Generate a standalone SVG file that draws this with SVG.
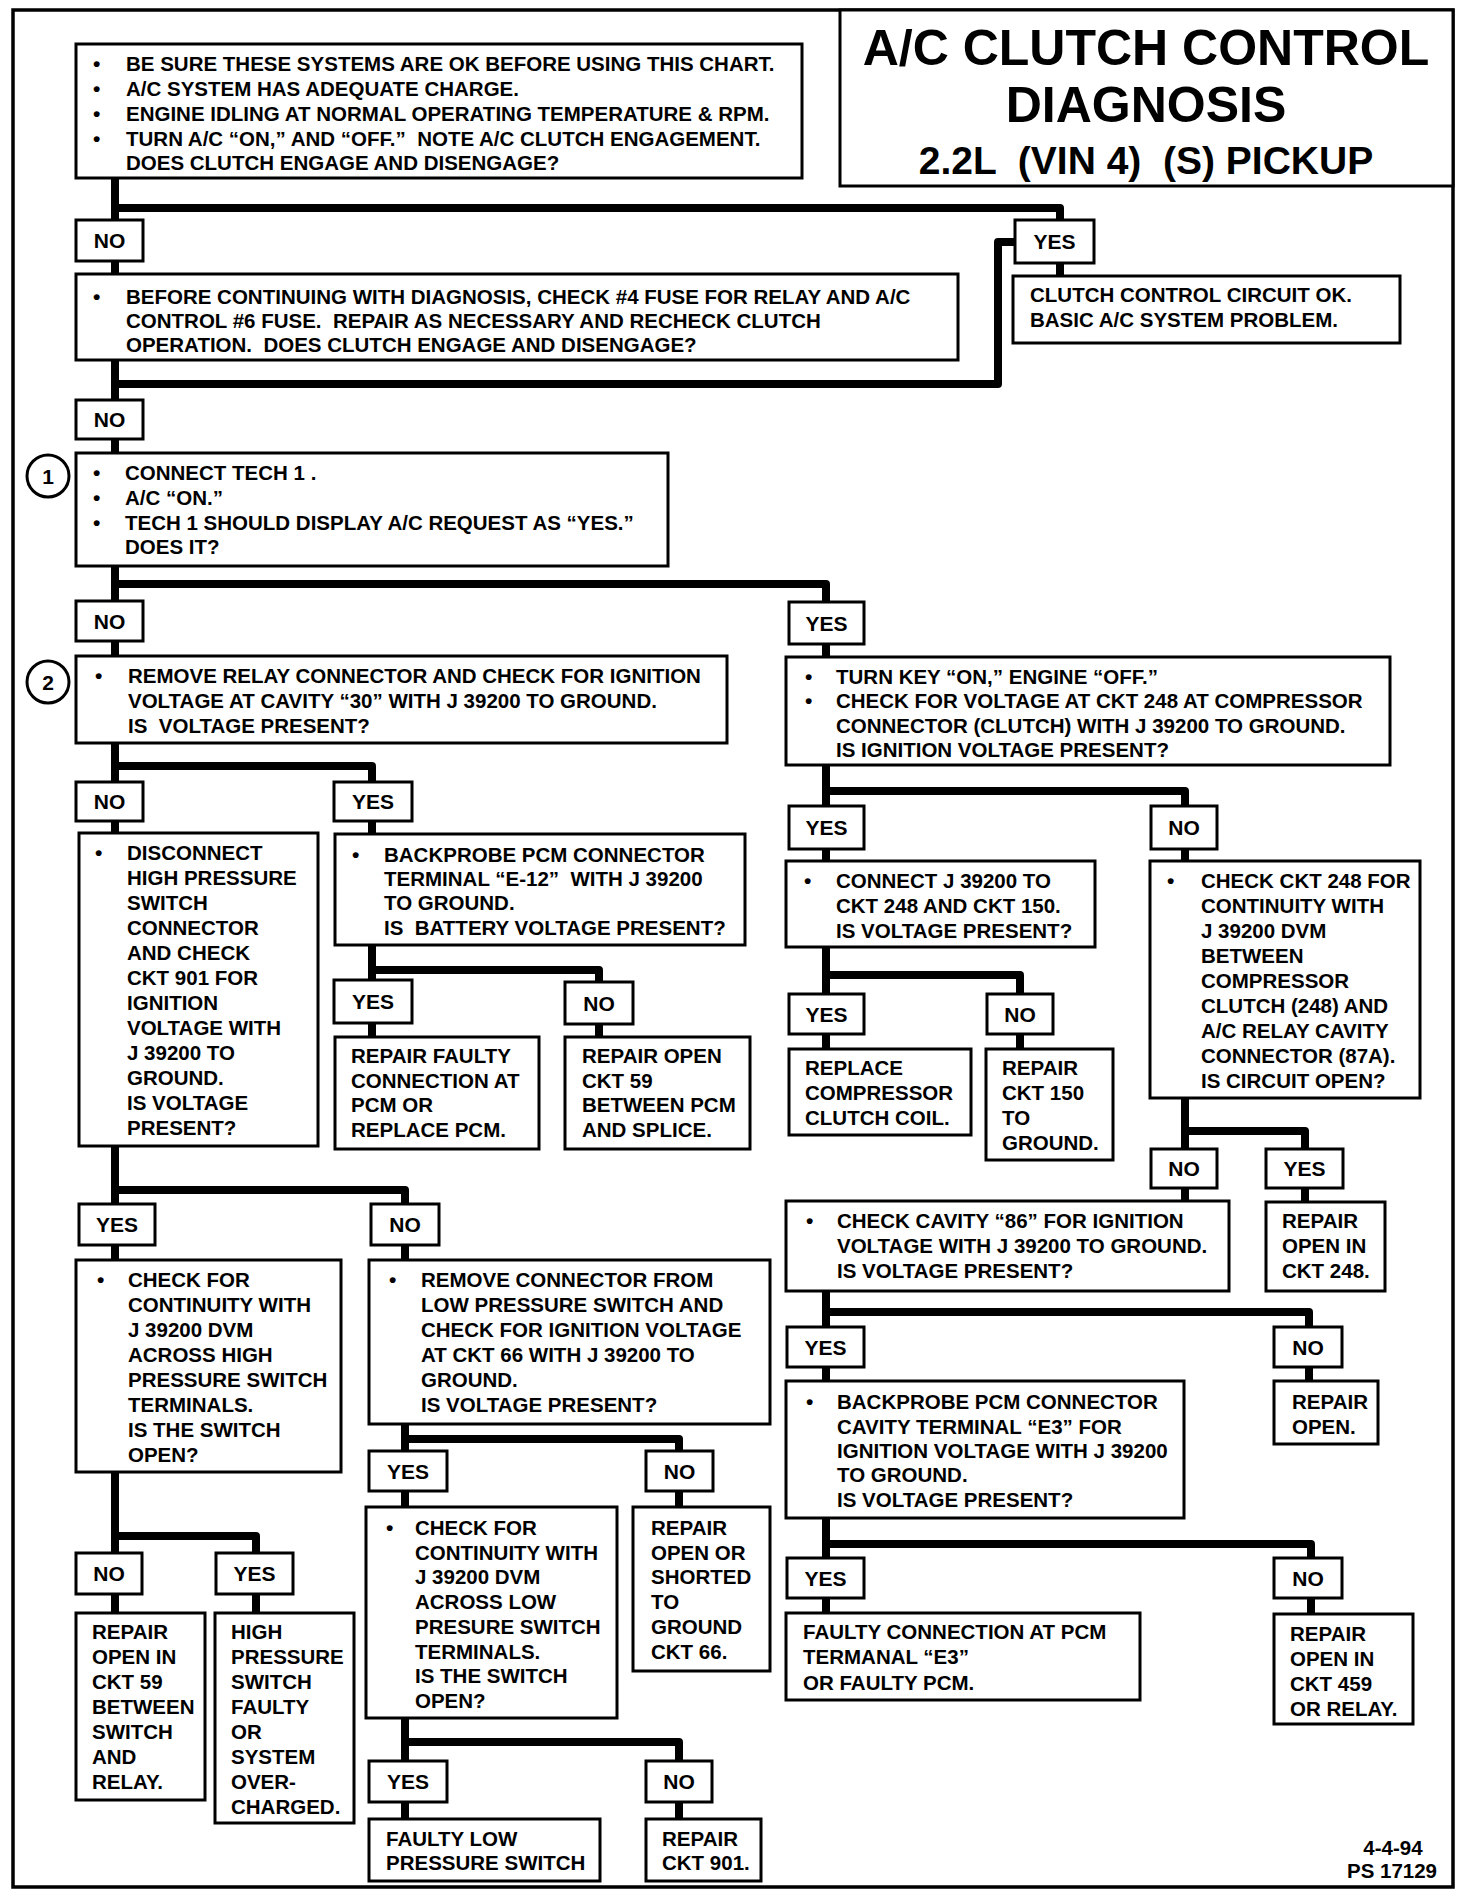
<svg xmlns="http://www.w3.org/2000/svg" width="1472" height="1902" viewBox="0 0 1472 1902">
<style>
.bx{fill:#fff;stroke:#000;stroke-width:3}
.fr{fill:none;stroke:#000;stroke-width:3.5}
.c{fill:none;stroke:#000;stroke-width:8;stroke-linejoin:round;stroke-linecap:butt}
.t{font-family:"Liberation Sans",Arial,sans-serif;font-weight:bold;font-size:20.5px;white-space:pre;fill:#000}
.b{font-family:"Liberation Sans",Arial,sans-serif;font-weight:bold;font-size:21px;fill:#000}
.l{font-family:"Liberation Sans",Arial,sans-serif;font-weight:bold;font-size:21px;text-anchor:middle;fill:#000}
.h{font-family:"Liberation Sans",Arial,sans-serif;font-weight:bold;text-anchor:middle;white-space:pre;fill:#000}
.ci{fill:#fff;stroke:#000;stroke-width:3}
</style>
<rect width="1472" height="1902" fill="#fff"/>
<rect class="fr" x="13" y="10" width="1440" height="1877"/>

<g id="connectors">
<path class="c" d="M115,178 V274"/>
<path class="c" d="M115,208 H1060 V276"/>
<path class="c" d="M115,360 V453"/>
<path class="c" d="M115,384 H998 V242 H1015"/>
<path class="c" d="M115,565 V656"/>
<path class="c" d="M115,584 H826 V657"/>
<path class="c" d="M115,743 V833"/>
<path class="c" d="M115,766 H372 V834"/>
<path class="c" d="M115,1146 V1260"/>
<path class="c" d="M115,1190 H405 V1260"/>
<path class="c" d="M372,945 V1037"/>
<path class="c" d="M372,970 H599 V1037"/>
<path class="c" d="M115,1472 V1613"/>
<path class="c" d="M115,1536 H256 V1613"/>
<path class="c" d="M405,1424 V1507"/>
<path class="c" d="M405,1439 H679 V1507"/>
<path class="c" d="M405,1718 V1819"/>
<path class="c" d="M405,1742 H679 V1819"/>
<path class="c" d="M826,765 V861"/>
<path class="c" d="M826,791 H1185 V861"/>
<path class="c" d="M826,947 V1049"/>
<path class="c" d="M826,975 H1020 V1049"/>
<path class="c" d="M1185,1098 V1201"/>
<path class="c" d="M1185,1131 H1305 V1202"/>
<path class="c" d="M826,1291 V1381"/>
<path class="c" d="M826,1312 H1309 V1381"/>
<path class="c" d="M826,1518 V1613"/>
<path class="c" d="M826,1544 H1311 V1614"/>
</g>

<g id="title">
<rect class="bx" x="840" y="10" width="613" height="176"/>
<text class="h" x="1146" y="65" font-size="50">A/C CLUTCH CONTROL</text>
<text class="h" x="1146" y="122" font-size="50">DIAGNOSIS</text>
<text class="h" x="1146" y="174" font-size="39">2.2L  (VIN 4)  (S) PICKUP</text>
</g>

<g id="nodeA">
<rect class="bx" x="76" y="44" width="726" height="134"/>
<text class="b" x="93" y="71">•</text>
<text class="t" x="126" y="71">BE SURE THESE SYSTEMS ARE OK BEFORE USING THIS CHART.</text>
<text class="b" x="93" y="96">•</text>
<text class="t" x="126" y="96">A/C SYSTEM HAS ADEQUATE CHARGE.</text>
<text class="b" x="93" y="121">•</text>
<text class="t" x="126" y="121">ENGINE IDLING AT NORMAL OPERATING TEMPERATURE &amp; RPM.</text>
<text class="b" x="93" y="146">•</text>
<text class="t" x="126" y="146">TURN A/C “ON,” AND “OFF.”  NOTE A/C CLUTCH ENGAGEMENT.</text>
<text class="t" x="126" y="170">DOES CLUTCH ENGAGE AND DISENGAGE?</text>
</g>

<g id="lblA-no"><rect class="bx" x="76" y="220" width="67" height="41"/><text class="l" x="109.5" y="248">NO</text></g>
<g id="lblA-yes"><rect class="bx" x="1015" y="220" width="79" height="43"/><text class="l" x="1054.5" y="249">YES</text></g>

<g id="nodeOK">
<rect class="bx" x="1013" y="276" width="387" height="67"/>
<text class="t" x="1030" y="302">CLUTCH CONTROL CIRCUIT OK.</text>
<text class="t" x="1030" y="327">BASIC A/C SYSTEM PROBLEM.</text>
</g>

<g id="nodeB">
<rect class="bx" x="76" y="274" width="882" height="86"/>
<text class="b" x="93" y="304">•</text>
<text class="t" x="126" y="304">BEFORE CONTINUING WITH DIAGNOSIS, CHECK #4 FUSE FOR RELAY AND A/C</text>
<text class="t" x="126" y="328">CONTROL #6 FUSE.  REPAIR AS NECESSARY AND RECHECK CLUTCH</text>
<text class="t" x="126" y="352">OPERATION.  DOES CLUTCH ENGAGE AND DISENGAGE?</text>
</g>

<g id="lblB-no"><rect class="bx" x="76" y="400" width="67" height="39"/><text class="l" x="109.5" y="427">NO</text></g>

<g id="step1"><circle class="ci" cx="48" cy="476" r="21"/><text class="l" x="48" y="484">1</text></g>
<g id="nodeC">
<rect class="bx" x="76" y="453" width="592" height="113"/>
<text class="b" x="93" y="480">•</text>
<text class="t" x="125" y="480">CONNECT TECH 1 .</text>
<text class="b" x="93" y="505">•</text>
<text class="t" x="125" y="505">A/C “ON.”</text>
<text class="b" x="93" y="530">•</text>
<text class="t" x="125" y="530">TECH 1 SHOULD DISPLAY A/C REQUEST AS “YES.”</text>
<text class="t" x="125" y="554">DOES IT?</text>
</g>

<g id="lblC-no"><rect class="bx" x="76" y="601" width="67" height="40"/><text class="l" x="109.5" y="629">NO</text></g>
<g id="lblC-yes"><rect class="bx" x="789" y="602" width="75" height="42"/><text class="l" x="826.5" y="631">YES</text></g>

<g id="step2"><circle class="ci" cx="48" cy="682" r="21"/><text class="l" x="48" y="690">2</text></g>
<g id="nodeD">
<rect class="bx" x="76" y="656" width="651" height="87"/>
<text class="b" x="95" y="683">•</text>
<text class="t" x="128" y="683">REMOVE RELAY CONNECTOR AND CHECK FOR IGNITION</text>
<text class="t" x="128" y="708">VOLTAGE AT CAVITY “30” WITH J 39200 TO GROUND.</text>
<text class="t" x="128" y="733">IS  VOLTAGE PRESENT?</text>
</g>

<g id="lblD-no"><rect class="bx" x="76" y="782" width="67" height="39"/><text class="l" x="109.5" y="809">NO</text></g>
<g id="lblD-yes"><rect class="bx" x="334" y="782" width="78" height="39"/><text class="l" x="373" y="809">YES</text></g>

<g id="nodeE">
<rect class="bx" x="79" y="833" width="239" height="313"/>
<text class="b" x="95" y="860">•</text>
<text class="t" x="127" y="860">DISCONNECT</text>
<text class="t" x="127" y="885">HIGH PRESSURE</text>
<text class="t" x="127" y="910">SWITCH</text>
<text class="t" x="127" y="935">CONNECTOR</text>
<text class="t" x="127" y="960">AND CHECK</text>
<text class="t" x="127" y="985">CKT 901 FOR</text>
<text class="t" x="127" y="1010">IGNITION</text>
<text class="t" x="127" y="1035">VOLTAGE WITH</text>
<text class="t" x="127" y="1060">J 39200 TO</text>
<text class="t" x="127" y="1085">GROUND.</text>
<text class="t" x="127" y="1110">IS VOLTAGE</text>
<text class="t" x="127" y="1135">PRESENT?</text>
</g>

<g id="nodeF">
<rect class="bx" x="335" y="834" width="410" height="111"/>
<text class="b" x="352" y="862">•</text>
<text class="t" x="384" y="862">BACKPROBE PCM CONNECTOR</text>
<text class="t" x="384" y="886">TERMINAL “E-12”  WITH J 39200</text>
<text class="t" x="384" y="910">TO GROUND.</text>
<text class="t" x="384" y="935">IS  BATTERY VOLTAGE PRESENT?</text>
</g>

<g id="lblF-yes"><rect class="bx" x="334" y="980" width="78" height="43"/><text class="l" x="373" y="1009">YES</text></g>
<g id="lblF-no"><rect class="bx" x="565" y="982" width="68" height="42"/><text class="l" x="599" y="1011">NO</text></g>

<g id="nodeG">
<rect class="bx" x="335" y="1037" width="204" height="112"/>
<text class="t" x="351" y="1063">REPAIR FAULTY</text>
<text class="t" x="351" y="1088">CONNECTION AT</text>
<text class="t" x="351" y="1112">PCM OR</text>
<text class="t" x="351" y="1137">REPLACE PCM.</text>
</g>
<g id="nodeH">
<rect class="bx" x="565" y="1037" width="185" height="112"/>
<text class="t" x="582" y="1063">REPAIR OPEN</text>
<text class="t" x="582" y="1088">CKT 59</text>
<text class="t" x="582" y="1112">BETWEEN PCM</text>
<text class="t" x="582" y="1137">AND SPLICE.</text>
</g>

<g id="lblE-yes"><rect class="bx" x="79" y="1204" width="76" height="41"/><text class="l" x="117" y="1232">YES</text></g>
<g id="lblE-no"><rect class="bx" x="371" y="1204" width="68" height="41"/><text class="l" x="405" y="1232">NO</text></g>

<g id="nodeI">
<rect class="bx" x="76" y="1260" width="265" height="212"/>
<text class="b" x="97" y="1287">•</text>
<text class="t" x="128" y="1287">CHECK FOR</text>
<text class="t" x="128" y="1312">CONTINUITY WITH</text>
<text class="t" x="128" y="1337">J 39200 DVM</text>
<text class="t" x="128" y="1362">ACROSS HIGH</text>
<text class="t" x="128" y="1387">PRESSURE SWITCH</text>
<text class="t" x="128" y="1412">TERMINALS.</text>
<text class="t" x="128" y="1437">IS THE SWITCH</text>
<text class="t" x="128" y="1462">OPEN?</text>
</g>

<g id="nodeL">
<rect class="bx" x="369" y="1260" width="401" height="164"/>
<text class="b" x="389" y="1287">•</text>
<text class="t" x="421" y="1287">REMOVE CONNECTOR FROM</text>
<text class="t" x="421" y="1312">LOW PRESSURE SWITCH AND</text>
<text class="t" x="421" y="1337">CHECK FOR IGNITION VOLTAGE</text>
<text class="t" x="421" y="1362">AT CKT 66 WITH J 39200 TO</text>
<text class="t" x="421" y="1387">GROUND.</text>
<text class="t" x="421" y="1412">IS VOLTAGE PRESENT?</text>
</g>

<g id="lblI-no"><rect class="bx" x="76" y="1553" width="66" height="41"/><text class="l" x="109" y="1581">NO</text></g>
<g id="lblI-yes"><rect class="bx" x="216" y="1553" width="77" height="41"/><text class="l" x="254.5" y="1581">YES</text></g>

<g id="nodeJ">
<rect class="bx" x="76" y="1613" width="129" height="187"/>
<text class="t" x="92" y="1639">REPAIR</text>
<text class="t" x="92" y="1664">OPEN IN</text>
<text class="t" x="92" y="1689">CKT 59</text>
<text class="t" x="92" y="1714">BETWEEN</text>
<text class="t" x="92" y="1739">SWITCH</text>
<text class="t" x="92" y="1764">AND</text>
<text class="t" x="92" y="1789">RELAY.</text>
</g>
<g id="nodeK">
<rect class="bx" x="215" y="1613" width="139" height="210"/>
<text class="t" x="231" y="1639">HIGH</text>
<text class="t" x="231" y="1664">PRESSURE</text>
<text class="t" x="231" y="1689">SWITCH</text>
<text class="t" x="231" y="1714">FAULTY</text>
<text class="t" x="231" y="1739">OR</text>
<text class="t" x="231" y="1764">SYSTEM</text>
<text class="t" x="231" y="1789">OVER-</text>
<text class="t" x="231" y="1814">CHARGED.</text>
</g>

<g id="lblL-yes"><rect class="bx" x="369" y="1451" width="78" height="40"/><text class="l" x="408" y="1479">YES</text></g>
<g id="lblL-no"><rect class="bx" x="646" y="1451" width="67" height="40"/><text class="l" x="679.5" y="1479">NO</text></g>

<g id="nodeM">
<rect class="bx" x="366" y="1507" width="251" height="211"/>
<text class="b" x="386" y="1535">•</text>
<text class="t" x="415" y="1535">CHECK FOR</text>
<text class="t" x="415" y="1560">CONTINUITY WITH</text>
<text class="t" x="415" y="1584">J 39200 DVM</text>
<text class="t" x="415" y="1609">ACROSS LOW</text>
<text class="t" x="415" y="1634">PRESURE SWITCH</text>
<text class="t" x="415" y="1659">TERMINALS.</text>
<text class="t" x="415" y="1683">IS THE SWITCH</text>
<text class="t" x="415" y="1708">OPEN?</text>
</g>
<g id="nodeN">
<rect class="bx" x="633" y="1507" width="137" height="164"/>
<text class="t" x="651" y="1535">REPAIR</text>
<text class="t" x="651" y="1560">OPEN OR</text>
<text class="t" x="651" y="1584">SHORTED</text>
<text class="t" x="651" y="1609">TO</text>
<text class="t" x="651" y="1634">GROUND</text>
<text class="t" x="651" y="1659">CKT 66.</text>
</g>

<g id="lblM-yes"><rect class="bx" x="369" y="1761" width="78" height="41"/><text class="l" x="408" y="1789">YES</text></g>
<g id="lblM-no"><rect class="bx" x="646" y="1761" width="66" height="41"/><text class="l" x="679" y="1789">NO</text></g>

<g id="nodeO">
<rect class="bx" x="369" y="1819" width="231" height="62"/>
<text class="t" x="386" y="1846">FAULTY LOW</text>
<text class="t" x="386" y="1870">PRESSURE SWITCH</text>
</g>
<g id="nodeP">
<rect class="bx" x="646" y="1819" width="115" height="62"/>
<text class="t" x="662" y="1846">REPAIR</text>
<text class="t" x="662" y="1870">CKT 901.</text>
</g>

<g id="nodeQ">
<rect class="bx" x="786" y="657" width="604" height="108"/>
<text class="b" x="805" y="684">•</text>
<text class="t" x="836" y="684">TURN KEY “ON,” ENGINE “OFF.”</text>
<text class="b" x="805" y="708">•</text>
<text class="t" x="836" y="708">CHECK FOR VOLTAGE AT CKT 248 AT COMPRESSOR</text>
<text class="t" x="836" y="733">CONNECTOR (CLUTCH) WITH J 39200 TO GROUND.</text>
<text class="t" x="836" y="757">IS IGNITION VOLTAGE PRESENT?</text>
</g>

<g id="lblQ-yes"><rect class="bx" x="789" y="806" width="75" height="43"/><text class="l" x="826.5" y="835">YES</text></g>
<g id="lblQ-no"><rect class="bx" x="1151" y="806" width="66" height="43"/><text class="l" x="1184" y="835">NO</text></g>

<g id="nodeR">
<rect class="bx" x="786" y="861" width="309" height="86"/>
<text class="b" x="804" y="888">•</text>
<text class="t" x="836" y="888">CONNECT J 39200 TO</text>
<text class="t" x="836" y="913">CKT 248 AND CKT 150.</text>
<text class="t" x="836" y="938">IS VOLTAGE PRESENT?</text>
</g>
<g id="nodeS">
<rect class="bx" x="1150" y="861" width="270" height="237"/>
<text class="b" x="1167" y="888">•</text>
<text class="t" x="1201" y="888">CHECK CKT 248 FOR</text>
<text class="t" x="1201" y="913">CONTINUITY WITH</text>
<text class="t" x="1201" y="938">J 39200 DVM</text>
<text class="t" x="1201" y="963">BETWEEN</text>
<text class="t" x="1201" y="988">COMPRESSOR</text>
<text class="t" x="1201" y="1013">CLUTCH (248) AND</text>
<text class="t" x="1201" y="1038">A/C RELAY CAVITY</text>
<text class="t" x="1201" y="1063">CONNECTOR (87A).</text>
<text class="t" x="1201" y="1088">IS CIRCUIT OPEN?</text>
</g>

<g id="lblR-yes"><rect class="bx" x="789" y="994" width="75" height="40"/><text class="l" x="826.5" y="1022">YES</text></g>
<g id="lblR-no"><rect class="bx" x="987" y="994" width="66" height="40"/><text class="l" x="1020" y="1022">NO</text></g>

<g id="nodeT">
<rect class="bx" x="789" y="1049" width="182" height="86"/>
<text class="t" x="805" y="1075">REPLACE</text>
<text class="t" x="805" y="1100">COMPRESSOR</text>
<text class="t" x="805" y="1125">CLUTCH COIL.</text>
</g>
<g id="nodeU">
<rect class="bx" x="986" y="1049" width="127" height="111"/>
<text class="t" x="1002" y="1075">REPAIR</text>
<text class="t" x="1002" y="1100">CKT 150</text>
<text class="t" x="1002" y="1125">TO</text>
<text class="t" x="1002" y="1150">GROUND.</text>
</g>

<g id="lblS-no"><rect class="bx" x="1151" y="1149" width="66" height="39"/><text class="l" x="1184" y="1176">NO</text></g>
<g id="lblS-yes"><rect class="bx" x="1266" y="1149" width="77" height="39"/><text class="l" x="1304.5" y="1176">YES</text></g>

<g id="nodeV">
<rect class="bx" x="786" y="1201" width="443" height="90"/>
<text class="b" x="806" y="1228">•</text>
<text class="t" x="837" y="1228">CHECK CAVITY “86” FOR IGNITION</text>
<text class="t" x="837" y="1253">VOLTAGE WITH J 39200 TO GROUND.</text>
<text class="t" x="837" y="1278">IS VOLTAGE PRESENT?</text>
</g>
<g id="nodeW">
<rect class="bx" x="1266" y="1202" width="119" height="89"/>
<text class="t" x="1282" y="1228">REPAIR</text>
<text class="t" x="1282" y="1253">OPEN IN</text>
<text class="t" x="1282" y="1278">CKT 248.</text>
</g>

<g id="lblV-yes"><rect class="bx" x="787" y="1327" width="77" height="40"/><text class="l" x="825.5" y="1355">YES</text></g>
<g id="lblV-no"><rect class="bx" x="1274" y="1327" width="68" height="40"/><text class="l" x="1308" y="1355">NO</text></g>

<g id="nodeX">
<rect class="bx" x="786" y="1381" width="398" height="137"/>
<text class="b" x="806" y="1409">•</text>
<text class="t" x="837" y="1409">BACKPROBE PCM CONNECTOR</text>
<text class="t" x="837" y="1434">CAVITY TERMINAL “E3” FOR</text>
<text class="t" x="837" y="1458">IGNITION VOLTAGE WITH J 39200</text>
<text class="t" x="837" y="1482">TO GROUND.</text>
<text class="t" x="837" y="1507">IS VOLTAGE PRESENT?</text>
</g>
<g id="nodeY">
<rect class="bx" x="1274" y="1381" width="104" height="63"/>
<text class="t" x="1292" y="1409">REPAIR</text>
<text class="t" x="1292" y="1434">OPEN.</text>
</g>

<g id="lblX-yes"><rect class="bx" x="787" y="1558" width="77" height="40"/><text class="l" x="825.5" y="1586">YES</text></g>
<g id="lblX-no"><rect class="bx" x="1274" y="1558" width="68" height="40"/><text class="l" x="1308" y="1586">NO</text></g>

<g id="nodeZ">
<rect class="bx" x="786" y="1613" width="354" height="87"/>
<text class="t" x="803" y="1639">FAULTY CONNECTION AT PCM</text>
<text class="t" x="803" y="1664">TERMANAL “E3”</text>
<text class="t" x="803" y="1690">OR FAULTY PCM.</text>
</g>
<g id="nodeAA">
<rect class="bx" x="1274" y="1614" width="139" height="110"/>
<text class="t" x="1290" y="1641">REPAIR</text>
<text class="t" x="1290" y="1666">OPEN IN</text>
<text class="t" x="1290" y="1691">CKT 459</text>
<text class="t" x="1290" y="1716">OR RELAY.</text>
</g>

<g id="footer">
<text class="h" x="1393" y="1855" font-size="20.5">4-4-94</text>
<text class="h" x="1392" y="1878" font-size="20.5">PS 17129</text>
</g>
</svg>
